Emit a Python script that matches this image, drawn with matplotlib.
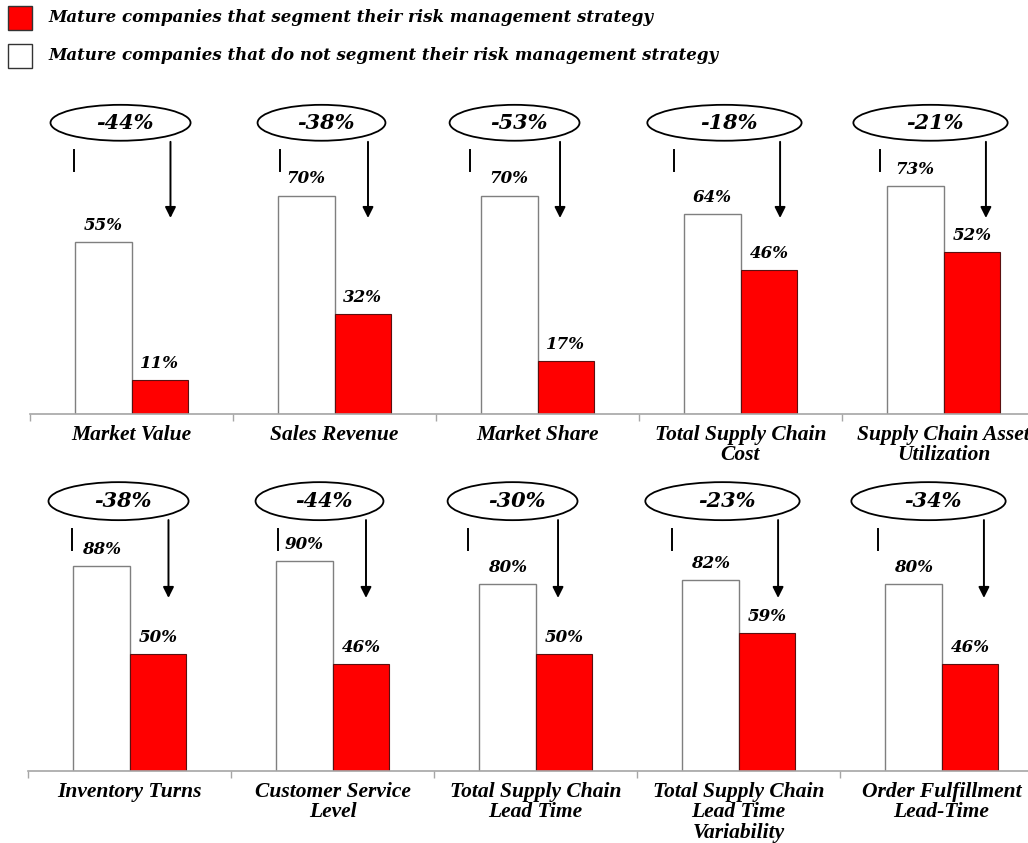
"""Segmented vs. non-segmented risk strategy: ten paired bar panels."""

import matplotlib

matplotlib.use("Agg")
import matplotlib.pyplot as plt
import numpy as np
from matplotlib.patches import Ellipse, Rectangle

# ---- data -----------------------------------------------------------------
top_categories = [
    "Market Value",
    "Sales Revenue",
    "Market Share",
    "Total Supply Chain\nCost",
    "Supply Chain Asset\nUtilization",
]
top_not_segmented = [55, 70, 70, 64, 73]
top_segmented = [11, 32, 17, 46, 52]
top_change = ["-44%", "-38%", "-53%", "-18%", "-21%"]

bottom_categories = [
    "Inventory Turns",
    "Customer Service\nLevel",
    "Total Supply Chain\nLead Time",
    "Total Supply Chain\nLead Time\nVariability",
    "Order Fulfillment\nLead-Time",
]
bottom_not_segmented = [88, 90, 80, 82, 80]
bottom_segmented = [50, 46, 50, 59, 46]
bottom_change = ["-38%", "-44%", "-30%", "-23%", "-34%"]

legend_labels = [
    "Mature companies that segment their risk management strategy",
    "Mature companies that do not segment their risk management strategy",
]

# ---- style ----------------------------------------------------------------
RED = "#FF0000"
BAR_EDGE = "#7F7F7F"
AXIS_GREY = "#A6A6A6"
SERIF = "DejaVu Serif"
LABEL_FONT = "Liberation Serif"

W, H = 1028, 843
BAR_W = 0.28

# per-panel placement of the callout ellipse, guide tick and arrow (category units)
ELLIPSE_DX = [-0.054, -0.064, -0.113, -0.079, -0.064]
ELLIPSE_W = [0.69, 0.63, 0.64, 0.76, 0.76]
TICK_DX = [-0.283, -0.268, -0.333, -0.328, -0.313]
ARROW_DX = [0.192, 0.165, 0.111, 0.195, 0.209]


def px_rect(left, top, width, height):
    """Figure-fraction rectangle from pixel values measured from the top-left."""
    return [left / W, 1 - (top + height) / H, width / W, height / H]


def draw_row(fig, rect, ymax, callout, categories, grey_vals, red_vals, changes):
    ax = fig.add_axes(rect)
    n = len(categories)
    centers = np.arange(n) + 0.5

    ax.bar(centers - BAR_W, grey_vals, width=BAR_W, align="edge",
           color="white", edgecolor=BAR_EDGE, linewidth=1.0, zorder=2)
    ax.bar(centers, red_vals, width=BAR_W, align="edge",
           color=RED, edgecolor="#5A1010", linewidth=0.8, zorder=2)

    pad = callout["label_pad"]
    for c, g, r in zip(centers, grey_vals, red_vals):
        ax.text(c - BAR_W / 2, g + pad, f"{g}%", ha="center", va="bottom",
                fontsize=12, family=SERIF, fontweight="bold", fontstyle="italic")
        ax.text(c + BAR_W / 2, r + pad, f"{r}%", ha="center", va="bottom",
                fontsize=12, family=SERIF, fontweight="bold", fontstyle="italic")

    for i, (c, txt) in enumerate(zip(centers, changes)):
        ex = c + ELLIPSE_DX[i]
        ax.add_patch(Ellipse((ex, callout["ell_y"]), ELLIPSE_W[i], callout["ell_h"],
                             facecolor="white", edgecolor="black", linewidth=1.3,
                             clip_on=False, zorder=3))
        ax.text(ex + 0.02, callout["ell_y"], txt, ha="center", va="center",
                fontsize=15, family=SERIF, fontweight="bold", fontstyle="italic",
                zorder=4, clip_on=False)
        tx = c + TICK_DX[i]
        ax.plot([tx, tx], callout["tick"], color="black", linewidth=1.4,
                clip_on=False, zorder=3)
        axx = c + ARROW_DX[i]
        ax.annotate("", xy=(axx, callout["arrow"][1]), xytext=(axx, callout["arrow"][0]),
                    arrowprops=dict(arrowstyle="-|>", color="black", lw=1.4,
                                    mutation_scale=16, shrinkA=0, shrinkB=0),
                    annotation_clip=False)

    ax.set_xlim(0, n)
    ax.set_ylim(0, ymax)
    for side in ("top", "right", "left"):
        ax.spines[side].set_visible(False)
    ax.spines["bottom"].set_color(AXIS_GREY)
    ax.spines["bottom"].set_linewidth(1.2)
    ax.set_yticks([])
    ax.set_xticks(np.arange(n + 1))
    ax.set_xticklabels([])
    ax.tick_params(axis="x", which="major", direction="out", length=5,
                   color=AXIS_GREY, width=1.0)
    ax.set_xticks(centers, minor=True)
    ax.set_xticklabels(categories, minor=True, fontsize=15.5, family=LABEL_FONT,
                       fontweight="bold", fontstyle="italic", linespacing=1.02)
    ax.tick_params(axis="x", which="minor", length=0, pad=8)
    return ax


fig = plt.figure(figsize=(W / 100, H / 100), dpi=100)

top_callout = {"ell_y": 93.3, "ell_h": 11.5, "tick": [77.9, 84.6],
               "arrow": [87.2, 62.8], "label_pad": 2.6}
bottom_callout = {"ell_y": 115.7, "ell_h": 16.3, "tick": [94.7, 103.7],
                  "arrow": [107.6, 74.2], "label_pad": 3.4}

draw_row(fig, px_rect(30, 95, 1015, 319), 102.2, top_callout,
         top_categories, top_not_segmented, top_segmented, top_change)
draw_row(fig, px_rect(28, 465, 1015, 306), 131.2, bottom_callout,
         bottom_categories, bottom_not_segmented, bottom_segmented, bottom_change)

# legend drawn as two swatches with captions
for row, (label, face) in enumerate(zip(legend_labels, [RED, "white"])):
    cy = 18 + 38 * row
    fig.add_artist(Rectangle((8 / W, 1 - (cy + 12) / H), 24 / W, 24 / H,
                             transform=fig.transFigure, facecolor=face,
                             edgecolor="#333333", linewidth=1.0))
    fig.text(48 / W, 1 - cy / H, label, ha="left", va="center", fontsize=12,
             family=SERIF, fontweight="bold", fontstyle="italic")

fig.savefig("out.png", dpi=100)
